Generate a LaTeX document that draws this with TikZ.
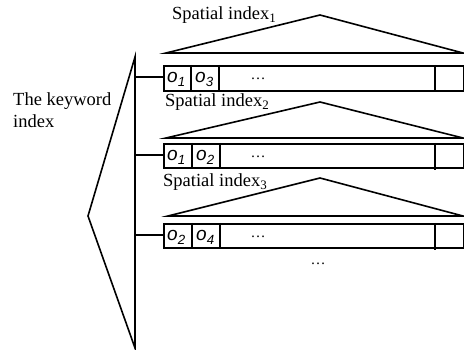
\documentclass[tikz,border=0pt]{standalone}
\usepackage{fontspec}
\setmainfont{Liberation Serif}
\setsansfont{Liberation Sans}
\begin{document}
\begin{tikzpicture}[x=1pt,y=-1pt,
  ln/.style={line width=1.6pt, line join=miter},
  rowbox/.style={draw, line width=1.6pt, minimum width=300pt, minimum height=25pt, inner sep=0pt, anchor=north west},
  lab/.style={font=\fontsize{18.5}{22}\selectfont, inner sep=0pt, anchor=base west},
  obj/.style={font=\sffamily\itshape\fontsize{19}{19}\selectfont, inner sep=0pt, anchor=base west},
  dots/.style={font=\fontsize{15}{15}\selectfont, inner sep=0pt}]
\useasboundingbox (0,0) rectangle (464,350);
% keyword index triangle
\coordinate (kt) at (135,57);
\coordinate (ka) at (88,216);
\coordinate (kb) at (135,348);
\draw[ln] (kt) -- (ka) -- (kb) -- cycle;
\node[lab, align=left] (kw) at (13,128) {The keyword\\index};
% rows
\node[rowbox] (r1) at (163,65) {};
\node[rowbox, minimum height=24pt] (r2) at (163,143) {};
\node[rowbox, minimum height=24pt] (r3) at (163,223) {};
\coordinate (c1) at (135,77);
\coordinate (c2) at (135,155);
\coordinate (c3) at (135,235);
\draw[ln] (c1) -- (c1 -| r1.west);
\draw[ln] (c2) -- (c2 -| r2.west);
\draw[ln] (c3) -- (c3 -| r3.west);
% dividers
\draw[ln] (191,65) -- (191,90) (219,65) -- (219,90) (435,65) -- (435,90);
\draw[ln] (192,143) -- (192,169) (220,143) -- (220,169) (435,143) -- (435,170);
\draw[ln] (192,223) -- (192,249) (220,223) -- (220,249) (435,223) -- (435,250);
% spatial index triangles
\coordinate (t1a) at (320,15); \coordinate (t1l) at (166,53); \coordinate (t1r) at (463,53);
\coordinate (t2a) at (320,102); \coordinate (t2l) at (166,138); \coordinate (t2r) at (463,138);
\coordinate (t3a) at (320,178); \coordinate (t3l) at (168,216); \coordinate (t3r) at (463,216);
\draw[ln] (t1l) -- (t1a) -- (t1r) -- cycle;
\draw[ln] (t2l) -- (t2a) -- (t2r) -- cycle;
\draw[ln] (t3l) -- (t3a) -- (t3r) -- cycle;
\node[lab] (s1) at (172,20) {Spatial index\textsubscript{1}};
\node[lab] (s2) at (165,107) {Spatial index\textsubscript{2}};
\node[lab] (s3) at (163,187) {Spatial index\textsubscript{3}};
% object labels
\node[obj] (o11) at (167,83) {o\textsubscript{1}};
\node[obj] (o13) at (195,83) {o\textsubscript{3}};
\node[obj] (o21) at (167,161) {o\textsubscript{1}};
\node[obj] (o22) at (196,161) {o\textsubscript{2}};
\node[obj] (o32) at (167,241) {o\textsubscript{2}};
\node[obj] (o34) at (196,241) {o\textsubscript{4}};
\node[dots] (d1) at (258,79) {\textellipsis};
\node[dots] (d2) at (258,157) {\textellipsis};
\node[dots] (d3) at (258,237) {\textellipsis};
\node[dots] (d4) at (318,264) {\textellipsis};
\end{tikzpicture}
\end{document}
